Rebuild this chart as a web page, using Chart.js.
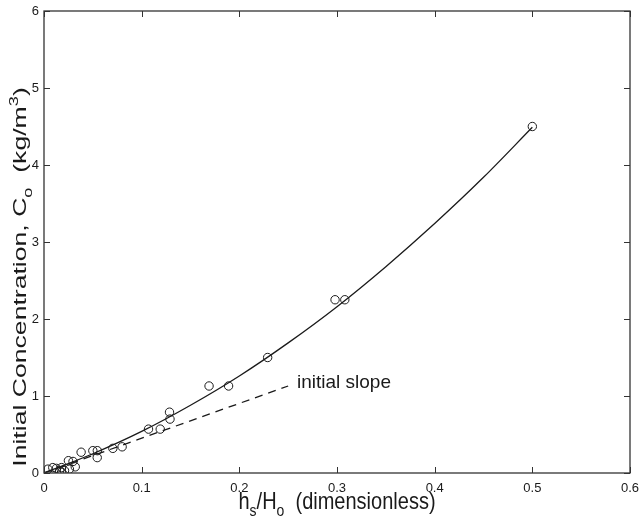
<!DOCTYPE html>
<html lang="en">
<head>
<meta charset="UTF-8" />
<title>Initial Concentration vs hs/Ho</title>
<script src="https://cdn.jsdelivr.net/npm/chart.js@4"></script>
<style>
    html, body { margin: 0; padding: 0; background: #fff; }
    #wrap { width: 641px; height: 525px; position: relative; }
</style>
</head>
<body>
<div id="wrap"><canvas id="chart"></canvas></div>
<script>
    // measured points (circles)
    const obsX = [0.5, 0.298, 0.308, 0.229, 0.169, 0.189, 0.1285, 0.129, 0.107, 0.119,
                  0.080, 0.0705, 0.050, 0.0546, 0.0545, 0.038, 0.0297, 0.025, 0.032,
                  0.018, 0.0127, 0.009, 0.004, 0.016, 0.018, 0.026, 0.021];
    const obsY = [4.5, 2.25, 2.25, 1.50, 1.13, 1.13, 0.79, 0.70, 0.57, 0.57,
                  0.34, 0.32, 0.29, 0.29, 0.20, 0.27, 0.15, 0.16, 0.08,
                  0.07, 0.06, 0.07, 0.05, 0.03, 0.01, 0.05, 0.03];

    // fitted curve (solid)
    const fitX = [0, 0.05, 0.1, 0.15, 0.2, 0.25, 0.3, 0.35, 0.4, 0.45, 0.5];
    const fitY = [0, 0.25, 0.54, 0.88, 1.26, 1.69, 2.16, 2.68, 3.24, 3.84, 4.49];

    // initial slope (dashed)
    const slopeX = [0, 0.25];
    const slopeY = [0, 1.13];

    const xTicks = [0, 0.1, 0.2, 0.3, 0.4, 0.5, 0.6];
    const yTicks = [0, 1, 2, 3, 4, 5, 6];

    const FONT = "'Liberation Sans', Arial, Helvetica, sans-serif";
    const INK = '#1a1a1a';

    const pts = (xs, ys) => xs.map((v, i) => ({ x: v, y: ys[i] }));

    // text made of runs with sub/superscripts
    function runsWidth(ctx, runs) {
        let w = 0;
        runs.forEach(r => { ctx.font = r.size + 'px ' + FONT; w += ctx.measureText(r.t).width; });
        return w;
    }
    function drawRuns(ctx, runs, x0, y0) {
        let x = x0;
        runs.forEach(r => {
            ctx.font = r.size + 'px ' + FONT;
            ctx.fillText(r.t, x, y0 + (r.dy || 0));
            x += ctx.measureText(r.t).width;
        });
    }

    const xTitle = [
        { t: 'h', size: 20 }, { t: 's', size: 14, dy: 6 },
        { t: '/H', size: 20 }, { t: 'o', size: 14, dy: 6 },
        { t: '  (dimensionless)', size: 20 }
    ];
    const yTitle = [
        { t: 'Initial Concentration, C', size: 19 }, { t: 'o', size: 13, dy: 6 },
        { t: '  (kg/m', size: 19 }, { t: '3', size: 13, dy: -8 }, { t: ')', size: 19 }
    ];

    const framePlugin = {
        id: 'frame',
        afterDatasetsDraw(chart) {
            const { ctx, chartArea: a, scales: { x, y } } = chart;
            ctx.save();
            ctx.strokeStyle = '#333';
            ctx.lineWidth = 1.3;
            ctx.strokeRect(a.left, a.top, a.right - a.left, a.bottom - a.top);
            ctx.lineWidth = 1;
            ctx.beginPath();
            xTicks.forEach(v => {
                const px = Math.round(x.getPixelForValue(v)) + 0.5;
                ctx.moveTo(px, a.bottom); ctx.lineTo(px, a.bottom - 6);
                ctx.moveTo(px, a.top); ctx.lineTo(px, a.top + 6);
            });
            yTicks.forEach(v => {
                const py = Math.round(y.getPixelForValue(v)) + 0.5;
                ctx.moveTo(a.left, py); ctx.lineTo(a.left + 6, py);
                ctx.moveTo(a.right, py); ctx.lineTo(a.right - 6, py);
            });
            ctx.stroke();

            ctx.fillStyle = INK;
            ctx.textBaseline = 'alphabetic';

            // annotation
            ctx.font = '19px ' + FONT;
            ctx.fillText('initial slope', x.getPixelForValue(0.259), y.getPixelForValue(1.10));

            // x title, a little taller than wide like the scan
            const xw = runsWidth(ctx, xTitle);
            ctx.save();
            ctx.translate(337, 509);
            ctx.scale(1, 1.2);
            drawRuns(ctx, xTitle, -xw / 2, 0);
            ctx.restore();

            // y title, stretched along its length
            ctx.save();
            ctx.translate(26, 277);
            ctx.rotate(-Math.PI / 2);
            ctx.scale(1.4, 1);
            const yw = runsWidth(ctx, yTitle);
            drawRuns(ctx, yTitle, -yw / 2, 0);
            ctx.restore();

            ctx.restore();
        }
    };

    const lineStyle = {
        showLine: true,
        pointRadius: 0,
        borderColor: INK,
        borderWidth: 1.3,
        fill: false
    };

    new Chart(document.getElementById('chart'), {
        type: 'scatter',
        data: {
            datasets: [
                Object.assign({ data: pts(fitX, fitY), cubicInterpolationMode: 'monotone' }, lineStyle),
                Object.assign({ data: pts(slopeX, slopeY), borderDash: [8, 6] }, lineStyle),
                {
                    data: pts(obsX, obsY),
                    pointStyle: 'circle',
                    pointRadius: 4.2,
                    pointBorderWidth: 1,
                    borderColor: INK,
                    backgroundColor: 'rgba(0,0,0,0)'
                }
            ]
        },
        options: {
            responsive: true,
            maintainAspectRatio: false,
            animation: false,
            layout: { padding: { left: 0, top: 11, right: 11, bottom: 0 } },
            plugins: { legend: { display: false }, tooltip: { enabled: false } },
            scales: {
                x: {
                    type: 'linear', min: 0, max: 0.6,
                    afterBuildTicks: s => { s.ticks = xTicks.map(v => ({ value: v })); },
                    afterFit: s => { s.height = 52; s.paddingLeft = 0; s.paddingRight = 0; },
                    grid: { display: false, drawTicks: false },
                    border: { display: false },
                    ticks: { color: INK, font: { family: FONT, size: 13 }, padding: 8, maxRotation: 0 }
                },
                y: {
                    type: 'linear', min: 0, max: 6,
                    afterBuildTicks: s => { s.ticks = yTicks.map(v => ({ value: v })); },
                    afterFit: s => { s.width = 44; s.paddingTop = 0; s.paddingBottom = 0; },
                    grid: { display: false, drawTicks: false },
                    border: { display: false },
                    ticks: { color: INK, font: { family: FONT, size: 13 }, padding: 5 }
                }
            }
        },
        plugins: [framePlugin]
    });
</script>
</body>
</html>
